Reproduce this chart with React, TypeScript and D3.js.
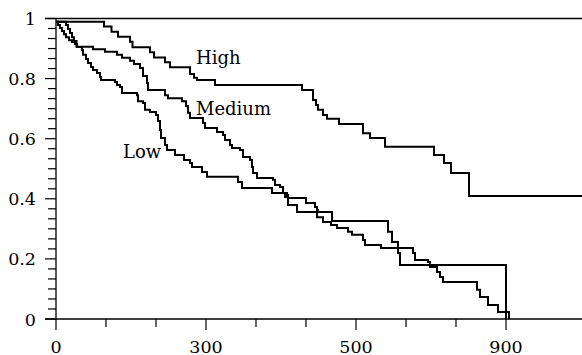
import React from "react";
import * as d3 from "d3";

// ---- data ----
const highTimes = [0, 96, 111, 124, 148, 153, 188, 196, 218, 228, 268, 276, 282, 318, 492, 514, 520, 524, 534, 542, 566, 614, 628, 658, 756, 776, 790, 826];
const highSurv = [0.989, 0.973, 0.956, 0.939, 0.923, 0.904, 0.888, 0.870, 0.854, 0.838, 0.815, 0.803, 0.795, 0.779, 0.762, 0.729, 0.712, 0.696, 0.679, 0.666, 0.649, 0.618, 0.602, 0.573, 0.546, 0.519, 0.486, 0.409];

const mediumTimes = [0, 20, 24, 28, 32, 36, 41, 74, 98, 122, 132, 148, 156, 168, 174, 182, 184, 218, 224, 252, 260, 264, 268, 294, 298, 322, 334, 338, 348, 352, 368, 374, 388, 392, 394, 402, 434, 438, 448, 454, 462, 464, 500, 518, 522, 524, 552, 664, 672, 684, 688, 900];
const mediumSurv = [0.989, 0.978, 0.965, 0.952, 0.938, 0.925, 0.906, 0.898, 0.889, 0.879, 0.869, 0.859, 0.849, 0.835, 0.809, 0.785, 0.762, 0.745, 0.735, 0.725, 0.709, 0.686, 0.669, 0.652, 0.636, 0.622, 0.612, 0.596, 0.579, 0.569, 0.562, 0.539, 0.529, 0.506, 0.486, 0.469, 0.463, 0.446, 0.439, 0.419, 0.413, 0.403, 0.386, 0.373, 0.363, 0.356, 0.326, 0.290, 0.256, 0.220, 0.180, 0];

const lowTimes = [0, 4, 8, 12, 16, 20, 26, 32, 38, 42, 52, 54, 60, 64, 70, 74, 82, 88, 90, 118, 122, 128, 132, 162, 164, 174, 178, 188, 200, 204, 208, 210, 218, 222, 238, 256, 268, 272, 292, 302, 364, 372, 432, 458, 464, 482, 522, 534, 550, 562, 584, 592, 614, 618, 650, 714, 718, 744, 748, 762, 768, 774, 842, 848, 864, 884, 906];
const lowSurv = [0.989, 0.978, 0.968, 0.958, 0.948, 0.938, 0.928, 0.922, 0.915, 0.905, 0.895, 0.879, 0.865, 0.852, 0.839, 0.829, 0.819, 0.805, 0.795, 0.789, 0.779, 0.772, 0.752, 0.745, 0.725, 0.719, 0.696, 0.689, 0.679, 0.659, 0.629, 0.602, 0.579, 0.562, 0.546, 0.529, 0.519, 0.506, 0.489, 0.473, 0.456, 0.436, 0.419, 0.406, 0.379, 0.356, 0.339, 0.323, 0.313, 0.303, 0.290, 0.280, 0.263, 0.246, 0.236, 0.220, 0.196, 0.190, 0.173, 0.156, 0.140, 0.123, 0.097, 0.073, 0.047, 0.023, 0];

const seriesNames = ["High", "Medium", "Low"];

const xMinorTicks = [0, 100, 200, 300, 400, 500, 600, 700, 800, 900];
const xLabelValues = [0, 300, 600, 900];
const xLabels = ["0", "300", "500", "900"];
const yLabelValues = [0, 0.2, 0.4, 0.6, 0.8, 1];
const yLabels = ["0", "0.2", "0.4", "0.6", "0.8", "1"];

const X_MAX = 1052;

export default function App() {
  const W = 582, H = 355;
  const x = d3.scaleLinear().domain([0, X_MAX]).range([56, 582]);
  const y = d3.scaleLinear().domain([0, 1]).range([319, 18.5]);

  const line = d3
    .line<[number, number]>()
    .x((d) => x(d[0]))
    .y((d) => y(d[1]))
    .curve(d3.curveStepAfter);

  const highPts: [number, number][] = highTimes.map((t, i) => [t, highSurv[i]]);
  highPts.push([X_MAX, highSurv[highSurv.length - 1]]);
  const medPts: [number, number][] = mediumTimes.map((t, i) => [t, mediumSurv[i]]);
  const lowPts: [number, number][] = lowTimes.map((t, i) => [t, lowSurv[i]]);

  const yMinor = d3.range(0, 31).map((i) => i / 30);
  const font = "'DejaVu Serif'";

  const labelPos: [number, number][] = [
    [280, 0.849],
    [280, 0.679],
    [134, 0.537],
  ];

  return (
    <svg
      width={W}
      height={H}
      style={{ position: "absolute", left: 0, top: 0, background: "#fff" }}
    >
      <rect x={0} y={0} width={W} height={H} fill="#fff" />
      <line x1={45} x2={582} y1={y(1)} y2={y(1)} stroke="#000" strokeWidth={1.5} />
      <line x1={45} x2={582} y1={y(0)} y2={y(0)} stroke="#000" strokeWidth={1.3} />
      <line x1={x(0)} x2={x(0)} y1={y(1)} y2={y(0)} stroke="#000" strokeWidth={1.3} />
      {yMinor.map((v, i) => (
        <line key={"ym" + i} x1={x(0) - (i % 6 === 0 ? 11 : 8)} x2={x(0)} y1={y(v)} y2={y(v)} stroke="#000" strokeWidth={1.2} />
      ))}
      {yLabelValues.map((v, i) => (
        <text key={"yl" + i} x={36} y={y(v) + 6.5} textAnchor="end" fontFamily={font} fontSize={17.5} fill="#000">
          {yLabels[i]}
        </text>
      ))}
      {xMinorTicks.map((v, i) => (
        <line key={"xm" + i} x1={x(v)} x2={x(v)} y1={y(0)} y2={y(0) + (v % 300 === 0 ? 11 : 8)} stroke="#000" strokeWidth={1.2} />
      ))}
      {xLabelValues.map((v, i) => (
        <text key={"xl" + i} x={x(v)} y={352.5} textAnchor="middle" fontFamily={font} fontSize={17.5} fill="#000">
          {xLabels[i]}
        </text>
      ))}
      {[highPts, medPts, lowPts].map((pts, i) => (
        <path key={"c" + i} d={line(pts) || ""} fill="none" stroke="#000" strokeWidth={2} />
      ))}
      {seriesNames.map((n, i) => (
        <text key={"n" + i} x={x(labelPos[i][0])} y={y(labelPos[i][1])} fontFamily={font} fontSize={18} fill="#000">
          {n}
        </text>
      ))}
    </svg>
  );
}
